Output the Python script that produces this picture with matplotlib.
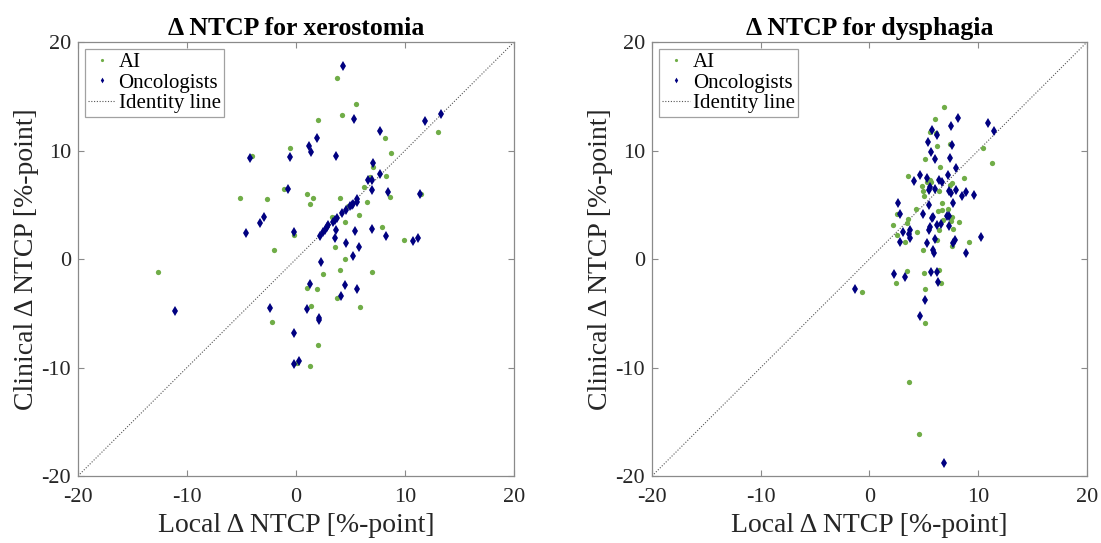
import matplotlib
matplotlib.use("Agg")
import matplotlib.pyplot as plt
import numpy as np

plt.rcParams['font.family'] = ['Liberation Serif', 'DejaVu Serif']
plt.rcParams['axes.unicode_minus'] = False

# ---- Xerostomia panel ----
ai_xero_x = [3.8, 5.5, 4.2, 2.0, 13.0, 8.2, 8.7, -0.5, -4.0, 7.1, 6.8, 8.3, 6.2, -1.1, 1.0, 1.6,
             4.0, -5.1, -2.7, 8.6, 11.5, 1.3, 6.5, 4.8, 3.3, 5.8, 4.5, 7.9, -0.2, 9.9, 3.6, -2.0,
             4.5, 4.0, 7.0, 2.5, 1.0, 1.9, 3.8, 5.9, 1.4, -2.2, 2.0, 1.3, 0.1, -12.7]
ai_xero_y = [16.7, 14.3, 13.3, 12.8, 11.7, 11.2, 9.8, 10.2, 9.5, 8.5, 7.6, 7.7, 6.6, 6.5, 6.0, 5.6,
             5.6, 5.6, 5.5, 5.7, 6.0, 5.1, 5.3, 4.9, 3.9, 4.1, 3.4, 3.0, 2.2, 1.8, 1.1, 0.8,
             0.0, -1.0, -1.2, -1.4, -2.7, -2.8, -3.6, -4.4, -4.3, -5.8, -7.9, -9.9, -9.6, -1.2]

onc_xero_x = [4.3, 5.3, 11.8, 13.3, 7.7, 1.9, 1.2, 1.4, -0.5, -4.2, 3.7, 7.1, 7.7, 6.6, 7.0, 7.0,
              -0.7, 8.4, 11.4, 5.6, 5.6,
              5.26, 5.11, 4.95, 4.56, 4.22, 3.79, 3.61, 3.42, 2.96, 2.81, 2.69, 2.5, 2.2,
              -2.9, -3.3, -4.6, -0.2, 3.7, 5.4, 7.0, 8.3, 10.7, 11.2, 3.6, 4.6, 5.8, 5.2, 2.3,
              1.3, 4.5, 5.6, 4.1, -2.4, 1.0, 2.1, 2.1, -0.2, -0.2, 0.3, -11.1]
onc_xero_y = [17.8, 12.9, 12.7, 13.4, 11.8, 11.2, 10.4, 9.9, 9.4, 9.3, 9.5, 8.9, 7.8, 7.3, 7.3, 6.4,
              6.5, 6.2, 6.0, 5.5, 5.3,
              5.11, 5.02, 4.86, 4.56, 4.25, 3.83, 3.58, 3.39, 3.15, 2.96, 2.72, 2.48, 2.17,
              3.9, 3.3, 2.4, 2.5, 2.7, 2.6, 2.8, 2.1, 1.7, 1.9, 1.9, 1.5, 1.1, 0.3, -0.3,
              -2.3, -2.4, -2.8, -3.4, -4.5, -4.6, -5.4, -5.6, -6.8, -9.7, -9.4, -4.8]

# ---- Dysphagia panel ----
ai_dys_x = [6.88, 6.02, 5.56, 6.12, 6.18, 7.40, 5.08, 6.51, 10.4, 11.26, 3.57, 5.56, 5.31, 5.68,
            4.86, 7.4, 7.56, 8.66, 6.36, 4.95, 4.98, 6.69, 4.25, 6.33, 6.67, 7.19, 2.53, 3.57,
            3.48, 6.79, 7.56, 7.52, 8.23, 2.19, 7.65, 6.39, 2.5, 4.37, 3.24, 4.95, 6.2, 7.62,
            9.15, 3.45, 4.98, 6.36, 2.44, 6.6, -0.69, 5.1, 5.13, 3.6, 4.55]
ai_dys_y = [14.0, 12.9, 11.7, 11.65, 10.4, 10.6, 9.2, 8.5, 10.2, 8.9, 7.7, 7.3, 7.15, 7.15,
            6.76, 6.85, 7.04, 7.43, 6.27, 6.24, 5.78, 5.17, 4.59, 4.47, 4.5, 4.59, 4.13, 3.67,
            3.33, 3.64, 3.88, 3.51, 3.45, 3.12, 2.78, 2.69, 2.2, 2.45, 1.53, 0.8, 1.74, 1.19,
            1.56, -1.07, -1.25, -1.04, -2.17, -2.2, -3.03, -2.72, -5.87, -11.3, -16.1]

onc_dys_x = [8.11, 10.9, 11.48, 7.52, 5.77, 6.23, 5.41, 7.62, 5.63, 6.05, 7.37, 7.98, 4.64, 4.09,
             5.31, 6.36, 6.64, 7.25, 5.56, 5.5, 6.05, 7.95, 7.36, 7.48, 8.85, 8.48, 9.64, 2.65,
             7.7, 5.47, 2.83, 4.89, 5.75, 5.81, 7.1, 7.34, 6.23, 6.6, 7.28, 5.56, 5.47, 3.08,
             3.6, 3.72, 10.22, 6.02, 7.89, 2.83, 3.76, 5.32, 5.81, 5.93, 7.71, 8.87, 2.28, 3.26,
             5.69, 6.18, 6.3, -1.36, 5.13, 4.67, 6.88]
onc_dys_y = [13.0, 12.5, 11.8, 12.23, 11.9, 11.4, 10.8, 10.55, 9.9, 9.2, 9.3, 8.44, 7.77, 7.22,
             7.43, 7.28, 7.07, 7.77, 6.63, 6.33, 6.42, 6.33, 6.27, 6.09, 6.15, 5.78, 5.87, 5.2,
             5.17, 4.95, 4.13, 4.19, 3.78, 3.9, 3.97, 3.97, 3.15, 3.21, 3.03, 2.96, 2.66, 2.54,
             2.29, 1.9, 2.05, 1.83, 1.8, 1.59, 2.72, 1.44, 0.83, 0.55, 1.5, 0.55, -1.35, -1.65,
             -1.19, -1.19, -2.08, -2.75, -3.73, -5.29, -18.8]

ticks = [-20, -10, 0, 10, 20]
titles = ['\u0394 NTCP for xerostomia', '\u0394 NTCP for dysphagia']

green = '#70AD47'
navy = '#000080'
axis_gray = '#8a8a8a'
text_col = '#262626'

fig = plt.figure(figsize=(11.01, 5.43), dpi=100)
ax1 = fig.add_axes([0.0708, 0.1234, 0.396, 0.799])
ax2 = fig.add_axes([0.5922, 0.1234, 0.395, 0.799])

panels = [(ax1, ai_xero_x, ai_xero_y, onc_xero_x, onc_xero_y, titles[0]),
          (ax2, ai_dys_x, ai_dys_y, onc_dys_x, onc_dys_y, titles[1])]

for ax, ax_x, ax_y, ox, oy, title in panels:
    ax.plot(ax_x, ax_y, 'o', color=green, markersize=3.8, markeredgewidth=0,
            linestyle='none', label='AI', zorder=3)
    ax.plot(ox, oy, 'd', color=navy, markersize=4.8, markeredgewidth=0,
            linestyle='none', label='Oncologists', zorder=4)
    ax.plot([-20, 20], [-20, 20], linestyle=(0, (1, 1.5)), color='#555555',
            linewidth=0.8, label='Identity line', zorder=2)
    ax.set_xlim(-20, 20)
    ax.set_ylim(-20, 20)
    ax.set_xticks(ticks)
    ax.set_yticks(ticks)
    ax.tick_params(direction='in', top=True, right=True, labelsize=16,
                   length=4, width=0.8, color=axis_gray, labelcolor=text_col)
    ax.tick_params(axis='x', pad=9)
    ax.tick_params(axis='y', pad=5)
    for sp in ax.spines.values():
        sp.set_color(axis_gray)
        sp.set_linewidth(0.9)
    ax.set_xlabel('Local \u0394 NTCP [%-point]', fontsize=20, labelpad=4, color=text_col)
    ax.set_ylabel('Clinical \u0394 NTCP [%-point]', fontsize=20, labelpad=2, color=text_col)
    ax.set_title(title, fontsize=18.5, fontweight='bold', pad=5)
    leg = ax.legend(loc='upper left', fontsize=15, frameon=True, fancybox=False,
                    edgecolor=axis_gray, handlelength=1.3, handletextpad=0.15,
                    borderpad=0.15, labelspacing=0.05, borderaxespad=0.35,
                    markerscale=0.6)
    leg.get_frame().set_linewidth(0.9)
    for t in leg.get_texts():
        t.set_color('black')

fig.savefig('out.png', dpi=100, facecolor='white')
